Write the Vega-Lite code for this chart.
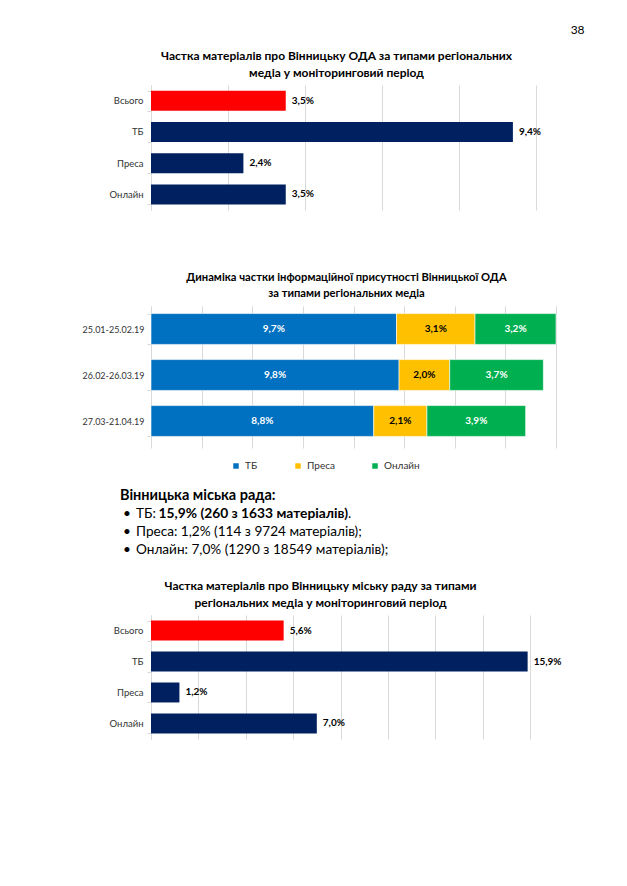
{
  "$schema": "https://vega.github.io/schema/vega-lite/v6.json",
  "background": "white",
  "padding": {"left": 82, "top": 24, "right": 5, "bottom": 5},
  "title": {"text": "38", "anchor": "end", "fontSize": 12, "fontWeight": "normal", "color": "#000000", "offset": 13, "dx": 23},
  "config": {
    "font": "Lato",
    "view": {"stroke": null},
    "locale": {"number": {"decimal": ",", "thousands": " ", "grouping": [3], "currency": ["", ""]}},
    "axis": {"title": null},
    "title": {"fontSize": 12, "fontWeight": "bold", "color": "#000000", "anchor": "middle"}
  },
  "resolve": {"scale": {"color": "independent", "x": "independent", "y": "independent"}},
  "spacing": 61,
  "vconcat": [
    {
      "width": 385,
      "height": 125,
      "title": {"text": ["Частка матеріалів про Вінницьку ОДА  за типами  регіональних", "медіа у моніторинговий період"], "lineHeight": 17, "offset": 0, "dx": -7},
      "data": {"values": [
        {"cat": "Всього", "share": 0.035},
        {"cat": "ТБ", "share": 0.094},
        {"cat": "Преса", "share": 0.024},
        {"cat": "Онлайн", "share": 0.035}
      ]},
      "encoding": {
        "y": {"field": "cat", "type": "nominal", "sort": ["Всього", "ТБ", "Преса", "Онлайн"],
          "scale": {"paddingInner": 0.36, "paddingOuter": 0.18},
          "axis": {"domainColor": "#d9d9d9", "tickBand": "extent", "tickSize": 4, "tickColor": "#d9d9d9", "labelPadding": 4, "labelFontSize": 9.5, "labelColor": "#333333"}},
        "x": {"field": "share", "type": "quantitative", "scale": {"domain": [0, 0.1], "nice": false},
          "axis": {"values": [0, 0.02, 0.04, 0.06, 0.08, 0.1], "grid": true, "gridColor": "#d9d9d9", "labels": false, "ticks": false, "domain": false}}
      },
      "layer": [
        {"mark": {"type": "bar"},
         "encoding": {"color": {"field": "cat", "type": "nominal", "scale": {"domain": ["Всього", "ТБ", "Преса", "Онлайн"], "range": ["#FF0000", "#002060", "#002060", "#002060"]}, "legend": null}}},
        {"mark": {"type": "text", "align": "left", "dx": 6, "fontWeight": "bold", "fontSize": 10, "color": "#000000"},
         "encoding": {"text": {"field": "share", "type": "quantitative", "format": ".1%"}}}
      ]
    },
    {
      "spacing": 16,
      "resolve": {"scale": {"color": "independent", "x": "independent", "y": "independent"}},
      "vconcat": [
        {
          "width": 405,
          "height": 138,
          "title": {"text": ["Динаміка частки інформаційної присутності Вінницької ОДА", "за типами регіональних медіа"], "fontSize": 11.2, "lineHeight": 16, "offset": 3, "dx": -7},
          "data": {"values": [
            {"period": "25.01-25.02.19", "type": "ТБ", "share": 0.097},
            {"period": "25.01-25.02.19", "type": "Преса", "share": 0.031},
            {"period": "25.01-25.02.19", "type": "Онлайн", "share": 0.032},
            {"period": "26.02-26.03.19", "type": "ТБ", "share": 0.098},
            {"period": "26.02-26.03.19", "type": "Преса", "share": 0.020},
            {"period": "26.02-26.03.19", "type": "Онлайн", "share": 0.037},
            {"period": "27.03-21.04.19", "type": "ТБ", "share": 0.088},
            {"period": "27.03-21.04.19", "type": "Преса", "share": 0.021},
            {"period": "27.03-21.04.19", "type": "Онлайн", "share": 0.039}
          ]},
          "transform": [
            {"stack": "share", "groupby": ["period"], "sort": [{"field": "type", "order": "descending"}], "as": ["x0", "x1"]},
            {"calculate": "(datum.x0 + datum.x1) / 2", "as": "mid"}
          ],
          "encoding": {
            "y": {"field": "period", "type": "nominal", "sort": "ascending",
              "scale": {"paddingInner": 0.33, "paddingOuter": 0.165},
              "axis": {"domainColor": "#d9d9d9", "tickBand": "extent", "tickSize": 4, "tickColor": "#d9d9d9", "labelPadding": 3, "labelFontSize": 9, "labelColor": "#333333"}}
          },
          "layer": [
            {"mark": {"type": "bar", "stroke": "white", "strokeWidth": 0.6},
             "encoding": {
               "x": {"field": "x0", "type": "quantitative", "scale": {"domain": [0, 0.16], "nice": false},
                 "axis": {"values": [0, 0.02, 0.04, 0.06, 0.08, 0.1, 0.12, 0.14, 0.16], "grid": true, "gridColor": "#d9d9d9", "labels": false, "ticks": true, "tickSize": 4, "tickColor": "#d9d9d9", "domain": false}},
               "x2": {"field": "x1"},
               "color": {"field": "type", "type": "nominal", "scale": {"domain": ["ТБ", "Преса", "Онлайн"], "range": ["#0070C0", "#FFC000", "#00B050"]},
                 "legend": {"title": null, "orient": "none", "legendX": 80, "legendY": 155, "direction": "horizontal", "symbolType": "square", "symbolSize": 30, "symbolStrokeWidth": 0, "labelFontSize": 10, "labelColor": "#333333", "columnPadding": 35, "labelOffset": 4}}
             }},
            {"mark": {"type": "text", "fontWeight": "bold", "fontSize": 10},
             "encoding": {
               "x": {"field": "mid", "type": "quantitative"},
               "text": {"field": "share", "type": "quantitative", "format": ".1%"},
               "color": {"condition": {"test": "datum.type === 'Преса'", "value": "#000000"}, "value": "#ffffff"}
             }}
          ]
        },
        {
          "width": 380,
          "height": 77,
          "data": {"values": [
            {"line": 0, "part": "head", "text": "Вінницька міська рада:"},
            {"line": 1, "part": "norm", "text": "ТБ: "},
            {"line": 1, "part": "bold", "text": "15,9% (260 з 1633 матеріалів)"},
            {"line": 1, "part": "tail", "text": "."},
            {"line": 2, "part": "norm", "text": "Преса: 1,2% (114 з 9724 матеріалів);"},
            {"line": 3, "part": "norm", "text": "Онлайн: 7,0% (1290 з 18549 матеріалів);"}
          ]},
          "encoding": {
            "y": {"field": "line", "type": "ordinal", "scale": {"type": "point", "padding": 0.639, "align": 0.39}, "axis": null}
          },
          "layer": [
            {"transform": [{"filter": "datum.part === 'head'"}],
             "mark": {"type": "text", "align": "left", "x": -31, "fontWeight": "bold", "fontSize": 14.5, "color": "#000000"},
             "encoding": {"text": {"field": "text"}}},
            {"transform": [{"filter": "datum.part === 'norm'"}],
             "mark": {"type": "text", "align": "left", "x": -28, "fontSize": 13.6, "color": "#000000"},
             "encoding": {"text": {"value": "•"}}},
            {"transform": [{"filter": "datum.part === 'norm'"}],
             "mark": {"type": "text", "align": "left", "x": -15, "fontSize": 13.6, "color": "#000000"},
             "encoding": {"text": {"field": "text"}}},
            {"transform": [{"filter": "datum.part === 'bold'"}],
             "mark": {"type": "text", "align": "left", "x": 7.5, "fontWeight": "bold", "fontSize": 13.8, "color": "#000000"},
             "encoding": {"text": {"field": "text"}}},
            {"transform": [{"filter": "datum.part === 'tail'"}],
             "mark": {"type": "text", "align": "left", "x": 197, "fontSize": 13.6, "color": "#000000"},
             "encoding": {"text": {"field": "text"}}}
          ]
        },
        {
          "width": 379,
          "height": 124,
          "title": {"text": ["Частка матеріалів про Вінницьку міську раду  за типами", "регіональних медіа  у моніторинговий період"], "lineHeight": 17, "offset": 0, "dx": -20},
          "data": {"values": [
            {"cat": "Всього", "share": 0.056},
            {"cat": "ТБ", "share": 0.159},
            {"cat": "Преса", "share": 0.012},
            {"cat": "Онлайн", "share": 0.070}
          ]},
          "encoding": {
            "y": {"field": "cat", "type": "nominal", "sort": ["Всього", "ТБ", "Преса", "Онлайн"],
              "scale": {"paddingInner": 0.355, "paddingOuter": 0.18},
              "axis": {"domainColor": "#d9d9d9", "tickBand": "extent", "tickSize": 4, "tickColor": "#d9d9d9", "labelPadding": 4, "labelFontSize": 9.5, "labelColor": "#333333"}},
            "x": {"field": "share", "type": "quantitative", "scale": {"domain": [0, 0.16], "nice": false},
              "axis": {"values": [0, 0.02, 0.04, 0.06, 0.08, 0.1, 0.12, 0.14, 0.16], "grid": true, "gridColor": "#d9d9d9", "labels": false, "ticks": false, "domain": false}}
          },
          "layer": [
            {"mark": {"type": "bar"},
             "encoding": {"color": {"field": "cat", "type": "nominal", "scale": {"domain": ["Всього", "ТБ", "Преса", "Онлайн"], "range": ["#FF0000", "#002060", "#002060", "#002060"]}, "legend": null}}},
            {"mark": {"type": "text", "align": "left", "dx": 6, "fontWeight": "bold", "fontSize": 10, "color": "#000000"},
             "encoding": {"text": {"field": "share", "type": "quantitative", "format": ".1%"}}}
          ]
        }
      ]
    }
  ]
}
